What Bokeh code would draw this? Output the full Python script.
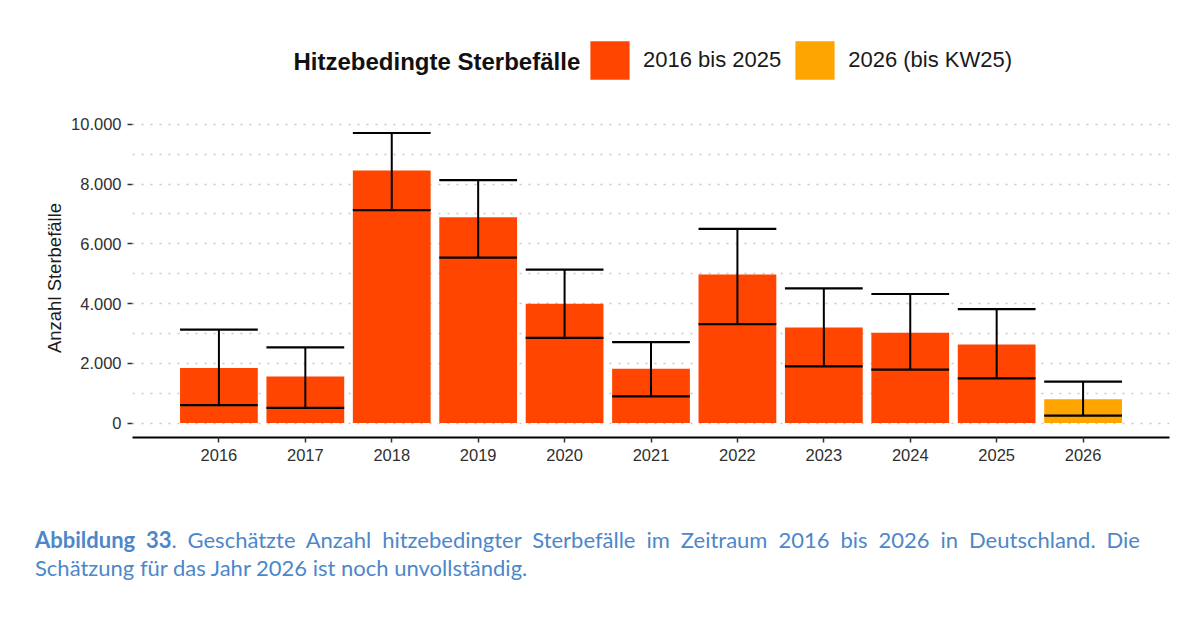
import pandas as pd
from bokeh.plotting import figure
from bokeh.layouts import column
from bokeh.models import (ColumnDataSource, Range1d, FixedTicker, Legend,
                          LegendItem, Label, Div)
from bokeh.transform import factor_cmap
from bokeh.embed import file_html
from bokeh.resources import INLINE

# Estimated heat-related deaths per year with lower/upper interval bounds
years = [2016, 2017, 2018, 2019, 2020, 2021, 2022, 2023, 2024, 2025, 2026]
estimate = [1840, 1560, 8450, 6890, 3990, 1820, 4970, 3200, 3020, 2630, 795]
lower = [600, 510, 7130, 5535, 2850, 890, 3310, 1895, 1785, 1495, 250]
upper = [3125, 2530, 9710, 8130, 5135, 2705, 6500, 4510, 4320, 3810, 1385]
period = ["2016 bis 2025"] * 10 + ["2026 (bis KW25)"]

periods = ["2016 bis 2025", "2026 (bis KW25)"]
period_colors = ["#FF4500", "#FFA500"]

y_ticks = [0, 2000, 4000, 6000, 8000, 10000]
y_tick_labels = ["0", "2.000", "4.000", "6.000", "8.000", "10.000"]
grid_ticks = list(range(0, 10001, 1000))

legend_title = "Hitzebedingte Sterbefälle"
y_label = "Anzahl Sterbefälle"

BAR_WIDTH = 0.9
TXT = "Liberation Sans"

df = pd.DataFrame(dict(year=years, estimate=estimate, lower=lower,
                       upper=upper, period=period))
df["cap_left"] = df["year"] - BAR_WIDTH / 2
df["cap_right"] = df["year"] + BAR_WIDTH / 2
src = ColumnDataSource(df)
bar_colors = factor_cmap("period", period_colors, periods)

# ---- main chart -----------------------------------------------------------
p = figure(width=1200, height=400,
           x_range=Range1d(2015, 2027), y_range=Range1d(-485, 10195),
           output_backend="svg", toolbar_location=None,
           min_border_left=132, min_border_right=31,
           min_border_top=18, min_border_bottom=63)
p.outline_line_color = None
p.background_fill_color = "white"
p.border_fill_color = "white"

p.vbar(x="year", top="estimate", bottom=0, width=BAR_WIDTH, source=src,
       fill_color=bar_colors, line_color=None)

# interval bars: stem plus caps as wide as the bars
p.segment(x0="year", y0="lower", x1="year", y1="upper", source=src,
          line_color="black", line_width=2)
p.segment(x0="cap_left", y0="upper", x1="cap_right", y1="upper", source=src,
          line_color="black", line_width=2.2)
p.segment(x0="cap_left", y0="lower", x1="cap_right", y1="lower", source=src,
          line_color="black", line_width=2.2)

p.xgrid.grid_line_color = None
p.ygrid.ticker = FixedTicker(ticks=grid_ticks)
p.ygrid.grid_line_color = "#c6c6c6"
p.ygrid.grid_line_dash = "2 7"
p.ygrid.grid_line_width = 1.4

p.yaxis.ticker = FixedTicker(ticks=y_ticks)
p.yaxis.major_label_overrides = dict(zip(y_ticks, y_tick_labels))
p.yaxis.axis_line_color = None
p.yaxis.minor_tick_line_color = None
p.yaxis.major_tick_in = 0
p.yaxis.major_tick_out = 5
p.yaxis.major_tick_line_color = "#333333"
p.yaxis.major_tick_line_width = 1.5
p.yaxis.major_label_standoff = 6
p.yaxis.major_label_text_font = TXT
p.yaxis.major_label_text_font_size = "16.5px"
p.yaxis.major_label_text_color = "#303030"
p.yaxis.axis_label = y_label
p.yaxis.axis_label_text_font = TXT
p.yaxis.axis_label_text_font_style = "normal"
p.yaxis.axis_label_text_font_size = "18.5px"
p.yaxis.axis_label_text_color = "#1a1a1a"
p.yaxis.axis_label_standoff = 3

p.xaxis.ticker = FixedTicker(ticks=years)
p.xaxis.major_label_overrides = {y: str(y) for y in years}
p.xaxis.axis_line_color = "black"
p.xaxis.axis_line_width = 2
p.xaxis.minor_tick_line_color = None
p.xaxis.major_tick_in = 0
p.xaxis.major_tick_out = 5
p.xaxis.major_tick_line_color = "#333333"
p.xaxis.major_tick_line_width = 1.5
p.xaxis.major_label_standoff = 6
p.xaxis.major_label_text_font = TXT
p.xaxis.major_label_text_font_size = "16.5px"
p.xaxis.major_label_text_color = "#303030"

# ---- legend strip above the chart ------------------------------------------
# a hidden bar renderer on the same data supplies the legend swatches
head = figure(width=1200, height=100, x_range=Range1d(2030, 2040),
              y_range=Range1d(-20000, -10000), x_axis_type=None,
              y_axis_type=None, output_backend="svg", toolbar_location=None,
              min_border=0)
head.outline_line_color = None
head.grid.visible = False
key = head.vbar(x="year", top="estimate", bottom=0, width=BAR_WIDTH,
                source=src, fill_color=bar_colors, line_color=None)
key.visible = False

leg = Legend(items=[LegendItem(label=periods[0], renderers=[key], index=0),
                    LegendItem(label=periods[1], renderers=[key], index=10)])
leg.orientation = "horizontal"
leg.location = (453, 16)
leg.padding = 0
leg.margin = 0
leg.spacing = 9
leg.label_standoff = 9
leg.glyph_width = 49
leg.glyph_height = 48
leg.border_line_color = None
leg.background_fill_alpha = 0
leg.inactive_fill_alpha = 0
leg.label_text_font = TXT
leg.label_text_font_size = "22px"
leg.label_text_color = "#1a1a1a"
head.add_layout(leg)

head.add_layout(Label(x=161, y=39, x_units="screen", y_units="screen",
                      text=legend_title, text_font=TXT,
                      text_font_style="bold", text_font_size="24px",
                      text_color="#111111", text_baseline="middle"))

# ---- figure caption --------------------------------------------------------
CAP_STYLE = ("font-family: Lato, 'Open Sans', sans-serif; font-size: 22px; "
             "color: #4d87c9; line-height: 28px; display: block; width: 1105px;")
caption = Div(
    text=(f'<div style="{CAP_STYLE} text-align: justify; text-align-last: justify;">'
          '<b>Abbildung 33</b>. Geschätzte Anzahl hitzebedingter Sterbefälle im '
          'Zeitraum 2016 bis 2026 in Deutschland. Die</div>'
          f'<div style="{CAP_STYLE}">Schätzung für das Jahr 2026 ist noch unvollständig.</div>'),
    width=1105, margin=(26, 0, 0, 35))

layout = column(head, p, caption, spacing=0)
open("out.html", "w").write(file_html(layout, INLINE))
